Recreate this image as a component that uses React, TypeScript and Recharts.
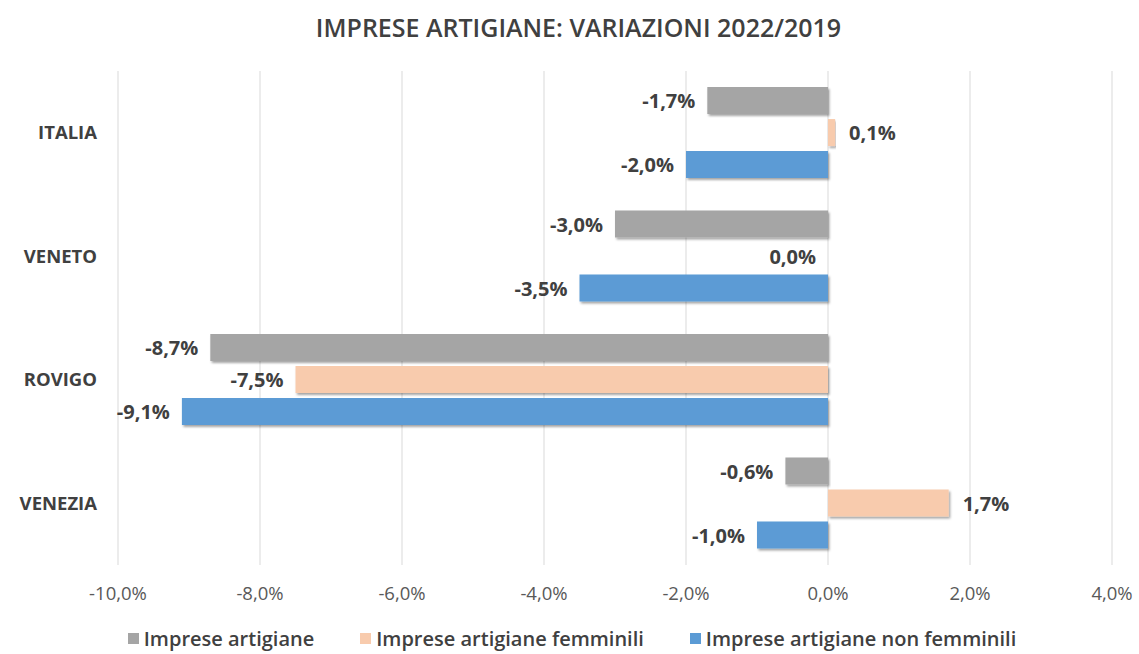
import { BarChart, Bar, XAxis, YAxis, CartesianGrid, Legend, LabelList } from "recharts";

const regions = ["ITALIA", "VENETO", "ROVIGO", "VENEZIA"];
const impreseArtigiane = [-1.7, -3.0, -8.7, -0.6];
const impreseFemminili = [0.1, 0.0, -7.5, 1.7];
const impreseNonFemminili = [-2.0, -3.5, -9.1, -1.0];
const xTicks = [-10, -8, -6, -4, -2, 0, 2, 4];

const data = regions.map((name, i) => ({
  name,
  tot: impreseArtigiane[i],
  fem: impreseFemminili[i],
  nonFem: impreseNonFemminili[i],
}));

const series = [
  { key: "tot", label: "Imprese artigiane", color: "#a5a5a5" },
  { key: "fem", label: "Imprese artigiane femminili", color: "#f8cbad" },
  { key: "nonFem", label: "Imprese artigiane non femminili", color: "#5b9bd5" },
];

const font = "'Open Sans', sans-serif";
const BAR_GAP = 5;
const pct = (v: number) => v.toFixed(1).replace(".", ",") + "%";

const labelText = (x: number, y: number, value: number) => {
  const pos = value > 0;
  return (
    <text
      x={pos ? x + 14 : x - 12}
      y={y}
      textAnchor={pos ? "start" : "end"}
      dominantBaseline="central"
      fontFamily={font}
      fontWeight={700}
      fontSize={20}
      fill="#404040"
    >
      {pct(value)}
    </text>
  );
};

const ValueLabel = (props: any) => {
  const { x, y, width, height, index, skipZero } = props;
  const value = Number(props.value);
  if (skipZero && value === 0) return null;
  const left = Math.min(x, x + width);
  const right = Math.max(x, x + width);
  const main = labelText(value > 0 ? right : left, y + height / 2, value);
  // recharts draws no label for a zero-length bar, so the first series
  // places the label of a zero "femminili" value just below itself
  if (props.withZeroFem && impreseFemminili[index] === 0) {
    const zeroX = value < 0 ? right : left;
    return (
      <g>
        {main}
        {labelText(zeroX, y + height + BAR_GAP + height / 2, 0)}
      </g>
    );
  }
  return main;
};

const LegendBox = () => (
  <div
    style={{
      display: "flex",
      justifyContent: "center",
      gap: 46,
      height: 32,
      paddingLeft: 32,
      alignItems: "center",
      fontFamily: font,
      fontWeight: 600,
      fontSize: 20,
      color: "#404040",
    }}
  >
    {series.map((s) => (
      <span key={s.key} style={{ display: "flex", alignItems: "center" }}>
        <span style={{ width: 11, height: 11, background: s.color, marginRight: 5 }} />
        {s.label}
      </span>
    ))}
  </div>
);

export default function App() {
  return (
    <div style={{ position: "absolute", left: 0, top: 0, width: 1139, height: 654, background: "#fff" }}>
      <div
        style={{
          position: "absolute",
          top: 10,
          width: 1139,
          paddingLeft: 18,
          boxSizing: "border-box",
          textAlign: "center",
          fontFamily: font,
          fontWeight: 600,
          fontSize: 25,
          color: "#404040",
        }}
      >
        IMPRESE ARTIGIANE: VARIAZIONI 2022/2019
      </div>
      <BarChart
        width={1139}
        height={654}
        data={data}
        layout="vertical"
        margin={{ top: 71, right: 27, left: 0, bottom: 0 }}
        barCategoryGap="13%"
        barGap={BAR_GAP}
      >
        <defs>
          <filter id="shadow" x="-5%" y="-20%" width="110%" height="160%">
            <feDropShadow dx="1.5" dy="2" stdDeviation="1.2" floodColor="#000" floodOpacity="0.35" />
          </filter>
        </defs>
        <CartesianGrid horizontal={false} stroke="#d9d9d9" />
        <XAxis
          type="number"
          domain={[-10, 4]}
          ticks={xTicks}
          tickFormatter={pct}
          axisLine={false}
          tickLine={false}
          tickMargin={16}
          height={57}
          tick={{ fontFamily: font, fontSize: 18.5, fill: "#595959" }}
        />
        <YAxis
          type="category"
          dataKey="name"
          axisLine={false}
          tickLine={false}
          width={118}
          tickMargin={15}
          tick={{ fontFamily: font, fontWeight: 700, fontSize: 18.5, fill: "#404040" }}
        />
        <Legend verticalAlign="bottom" content={<LegendBox />} />
        {series.map((s) => (
          <Bar key={s.key} dataKey={s.key} name={s.label} fill={s.color} filter="url(#shadow)" isAnimationActive={false}>
            <LabelList
              dataKey={s.key}
              content={<ValueLabel withZeroFem={s.key === "tot"} skipZero={s.key === "fem"} />}
            />
          </Bar>
        ))}
      </BarChart>
    </div>
  );
}
